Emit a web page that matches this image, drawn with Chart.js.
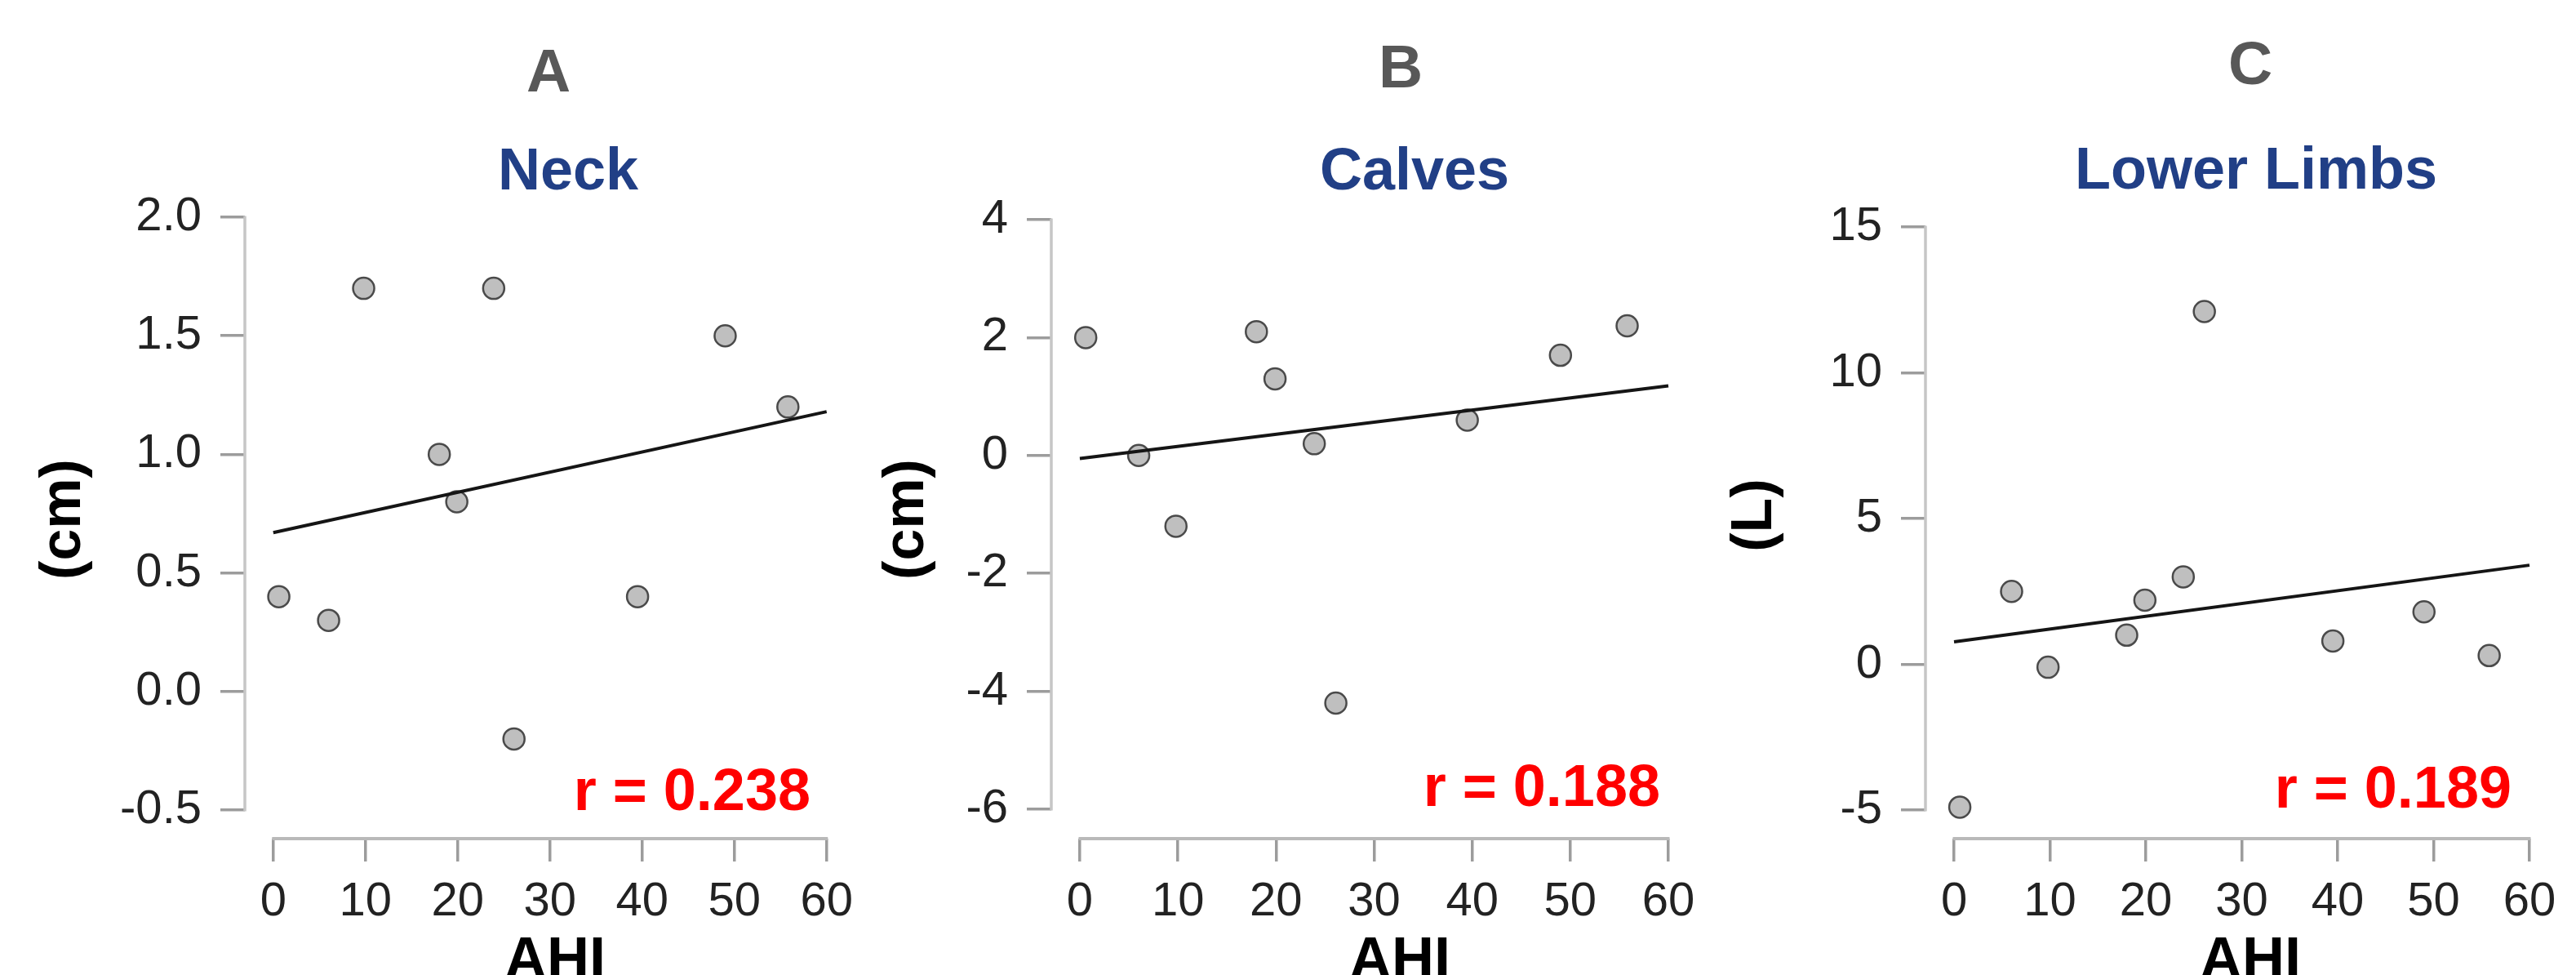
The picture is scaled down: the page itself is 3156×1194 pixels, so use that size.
<!doctype html>
<html>
<head>
<meta charset="utf-8">
<title>AHI correlations</title>
<style>
  body { margin: 0; background: #fff; }
  .wrap { position: relative; width: 3156px; height: 1194px; overflow: hidden; background: #fff; }
  canvas { position: absolute; top: 0; }
</style>
</head>
<body>
<div class="wrap">
  <canvas id="chartA" width="1060" height="1194" style="left:0px"></canvas>
  <canvas id="chartB" width="1050" height="1194" style="left:1060px"></canvas>
  <canvas id="chartC" width="1046" height="1194" style="left:2110px"></canvas>
</div>
<script src="https://cdn.jsdelivr.net/npm/chart.js"></script>
<script>
// values
const ahi = [0.6, 6.0, 9.8, 18.0, 19.9, 23.9, 26.1, 39.5, 49.0, 55.8];
const neck = [0.4, 0.3, 1.7, 1.0, 0.8, 1.7, -0.2, 0.4, 1.5, 1.2];
const calves = [2.0, 0.0, -1.2, 2.1, 1.3, 0.2, -4.2, 0.6, 1.7, 2.2];
const lowerLimbs = [-4.9, 2.5, -0.1, 1.0, 2.2, 3.0, 12.1, 0.8, 1.8, 0.3];

// regression lines, drawn between these two AHI values
const fitX = [0, 60];
const neckFit = [0.67, 1.18];
const calvesFit = [-0.05, 1.18];
const limbsFit = [0.77, 3.4];

const xTicks = ['0', '10', '20', '30', '40', '50', '60'];
const neckTicks = ['-0.5', '0.0', '0.5', '1.0', '1.5', '2.0'];
const calvesTicks = ['-6', '-4', '-2', '0', '2', '4'];
const limbsTicks = ['-5', '0', '5', '10', '15'];

const letters = ['A', 'B', 'C'];
const titles = ['Neck', 'Calves', 'Lower Limbs'];
const units = ['(cm)', '(cm)', '(L)'];
const rValues = ['0.238', '0.188', '0.189'];

Chart.defaults.font.family = "'Liberation Sans', Arial, Helvetica, sans-serif";
Chart.defaults.color = '#222';

// R-style axis lines that only run between the first and last tick
const axisLines = {
  id: 'axisLines',
  beforeDatasetsDraw(chart) {
    const { ctx, chartArea, scales: { x, y } } = chart;
    const xv = x.ticks.map(t => t.value), yv = y.ticks.map(t => t.value);
    ctx.save();
    ctx.lineCap = 'butt';
    ctx.strokeStyle = '#b9b9b9';
    ctx.lineWidth = 4;
    ctx.beginPath();
    ctx.moveTo(x.getPixelForValue(Math.min(...xv)) - 1.5, chartArea.bottom);
    ctx.lineTo(x.getPixelForValue(Math.max(...xv)) + 1.5, chartArea.bottom);
    ctx.stroke();
    ctx.strokeStyle = '#c6c6c6';
    ctx.lineWidth = 3.5;
    ctx.beginPath();
    ctx.moveTo(chartArea.left, y.getPixelForValue(Math.max(...yv)) - 1.5);
    ctx.lineTo(chartArea.left, y.getPixelForValue(Math.min(...yv)) + 1.5);
    ctx.stroke();
    ctx.restore();
  }
};

// panel letter, title, unit, AHI label and r value
const panelText = {
  id: 'panelText',
  afterDraw(chart, args, o) {
    const ctx = chart.ctx;
    ctx.save();
    ctx.textAlign = 'center';
    ctx.textBaseline = 'alphabetic';
    ctx.fillStyle = '#585858';
    ctx.font = "bold 75px 'Liberation Sans', Arial, sans-serif";
    ctx.fillText(o.letter, o.letterPos[0], o.letterPos[1]);
    ctx.fillStyle = '#213f86';
    ctx.font = "bold 72px 'Liberation Sans', Arial, sans-serif";
    ctx.fillText(o.title, o.titlePos[0], o.titlePos[1]);
    ctx.fillStyle = '#000';
    ctx.fillText('AHI', o.ahiPos[0], o.ahiPos[1]);
    ctx.fillStyle = '#ff0000';
    ctx.textAlign = 'right';
    ctx.fillText('r = ' + o.r, o.rPos[0], o.rPos[1]);
    ctx.fillStyle = '#000';
    ctx.textAlign = 'center';
    ctx.textBaseline = 'middle';
    ctx.font = "bold 70px 'Liberation Sans', Arial, sans-serif";
    ctx.translate(o.unitPos[0], o.unitPos[1]);
    ctx.rotate(-Math.PI / 2);
    ctx.fillText(o.unit, 0, 0);
    ctx.restore();
  }
};

function makePanel(id, i, values, fit, yTicks, geo) {
  const points = ahi.map((x, k) => ({ x: x, y: values[k] }));
  const line = fitX.map((x, k) => ({ x: x, y: fit[k] }));
  return new Chart(document.getElementById(id), {
    type: 'scatter',
    data: {
      datasets: [
        {
          data: line,
          showLine: true,
          borderColor: '#151515',
          borderWidth: 4,
          pointRadius: 0,
          order: 0,
          clip: false
        },
        {
          data: points,
          pointRadius: 13,
          pointBackgroundColor: '#bfbfbf',
          pointBorderColor: '#4a4a4a',
          pointBorderWidth: 2.5,
          order: 1,
          clip: false
        }
      ]
    },
    options: {
      responsive: false,
      animation: false,
      layout: { padding: { top: geo.top, right: geo.right, left: 0, bottom: 0 } },
      scales: {
        x: {
          type: 'linear',
          min: geo.xMin,
          max: 60,
          afterBuildTicks: s => { s.ticks = xTicks.map(v => ({ value: parseFloat(v) })); },
          afterFit: s => { s.height = 167; },
          ticks: {
            font: { size: 58 },
            color: '#222',
            padding: 15,
            maxRotation: 0,
            autoSkip: false,
            callback: v => xTicks.find(t => parseFloat(t) === v)
          },
          grid: { drawOnChartArea: false, drawTicks: true, tickLength: 28, color: '#9c9c9c', lineWidth: 3.5 },
          border: { display: false }
        },
        y: {
          type: 'linear',
          min: geo.yMin,
          max: geo.yMax,
          afterBuildTicks: s => { s.ticks = yTicks.map(v => ({ value: parseFloat(v) })); },
          afterFit: s => { s.width = geo.yWidth; },
          ticks: {
            font: { size: 58 },
            color: '#222',
            padding: 23,
            autoSkip: false,
            callback: v => yTicks.find(t => parseFloat(t) === v)
          },
          grid: { drawOnChartArea: false, drawTicks: true, tickLength: 30, color: '#9c9c9c', lineWidth: 3.5 },
          border: { display: false }
        }
      },
      plugins: {
        legend: { display: false },
        tooltip: { enabled: false },
        panelText: {
          letter: letters[i], title: titles[i], unit: units[i], r: rValues[i],
          letterPos: geo.letterPos, titlePos: geo.titlePos, unitPos: geo.unitPos,
          rPos: geo.rPos, ahiPos: geo.ahiPos
        }
      }
    },
    plugins: [axisLines, panelText]
  });
}

makePanel('chartA', 0, neck, neckFit, neckTicks, {
  top: 266, right: 44, yWidth: 300, xMin: -3.08, yMin: -0.6205, yMax: 2.0,
  letterPos: [672, 112], titlePos: [696, 232], unitPos: [79, 636], rPos: [993, 992], ahiPos: [680, 1198]
});
makePanel('chartB', 1, calves, calvesFit, calvesTicks, {
  top: 269, right: 66, yWidth: 228, xMin: -2.91, yMin: -6.499, yMax: 4,
  letterPos: [656, 107], titlePos: [673, 232], unitPos: [52, 636], rPos: [974, 987], ahiPos: [655, 1198]
});
makePanel('chartC', 2, lowerLimbs, limbsFit, limbsTicks, {
  top: 278, right: 57, yWidth: 249, xMin: -2.98, yMin: -5.98, yMax: 15,
  letterPos: [647, 103], titlePos: [654, 231], unitPos: [41, 631], rPos: [967, 989], ahiPos: [647, 1198]
});
</script>
</body>
</html>
